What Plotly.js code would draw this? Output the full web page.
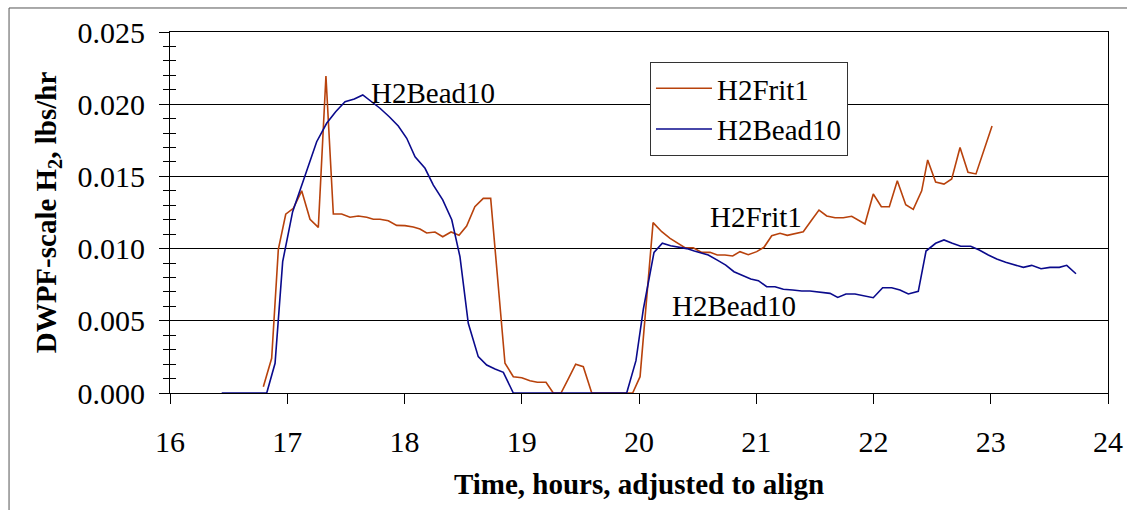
<!DOCTYPE html>
<html>
<head>
<meta charset="utf-8">
<script src="https://cdn.plot.ly/plotly-3.0.1.min.js"></script>
<style>html,body{margin:0;padding:0;background:#fff;}#chart{width:1127px;height:510px;}</style>
</head>
<body>
<div id="chart"></div>
<script>
// H2Frit1 series (time in hours, DWPF-scale H2 in lbs/hr)
var fritTime = [16.796,16.867,16.924,16.987,17.052,17.123,17.194,17.265,17.330,17.393,17.464,17.535,17.606,17.678,17.734,17.791,17.862,17.933,18.004,18.075,18.132,18.189,18.260,18.326,18.397,18.465,18.530,18.600,18.672,18.735,18.857,18.928,19.000,19.070,19.133,19.207,19.269,19.335,19.397,19.460,19.525,19.597,19.946,20.009,20.120,20.194,20.265,20.335,20.392,20.463,20.535,20.606,20.668,20.733,20.799,20.861,20.932,21.004,21.066,21.132,21.203,21.265,21.330,21.401,21.473,21.535,21.601,21.672,21.742,21.814,21.927,21.998,22.067,22.135,22.203,22.275,22.339,22.411,22.462,22.530,22.601,22.667,22.738,22.806,22.874,23.011];
var fritH2 = [0.00044,0.0024,0.00995,0.01238,0.01279,0.0140,0.01203,0.01147,0.02195,0.0124,0.0124,0.01217,0.01226,0.01217,0.01203,0.01203,0.01193,0.01161,0.01159,0.0115,0.01136,0.01108,0.01115,0.01082,0.01115,0.01092,0.01156,0.0129,0.01348,0.01348,0.00206,0.00113,0.00106,0.00085,0.00074,0.00074,0,0,0.00097,0.00199,0.00182,0,0,0.00113,0.0118,0.01117,0.01071,0.01037,0.01006,0.01006,0.00974,0.00974,0.00956,0.00956,0.00949,0.00979,0.00958,0.00979,0.01009,0.01089,0.01106,0.01092,0.01106,0.01117,0.01198,0.01267,0.01226,0.01214,0.01214,0.01224,0.0117,0.01378,0.0129,0.0129,0.0147,0.01304,0.01272,0.0140,0.01614,0.01461,0.01447,0.01482,0.0170,0.01528,0.01517,0.01849];

// H2Bead10 series
var beadTime = [16.441,16.825,16.896,16.961,17.046,17.123,17.188,17.251,17.336,17.413,17.493,17.572,17.644,17.720,17.791,17.870,17.947,18.019,18.090,18.175,18.246,18.326,18.403,18.473,18.544,18.629,18.701,18.772,18.843,18.928,19.895,19.974,20.037,20.128,20.199,20.270,20.335,20.407,20.472,20.535,20.591,20.668,20.740,20.810,20.884,20.953,21.018,21.089,21.160,21.231,21.311,21.388,21.458,21.538,21.629,21.695,21.765,21.842,21.998,22.078,22.155,22.226,22.297,22.382,22.448,22.530,22.601,22.672,22.744,22.829,22.902,22.979,23.051,23.127,23.207,23.278,23.349,23.429,23.505,23.585,23.648,23.727];
var beadH2 = [0,0,0.00206,0.0091,0.01256,0.0144,0.0159,0.0174,0.01868,0.01948,0.02017,0.02036,0.02064,0.02017,0.01972,0.01913,0.01849,0.01764,0.01636,0.01556,0.0144,0.01337,0.0120,0.00944,0.00483,0.00252,0.00194,0.00166,0.00143,0,0,0.00224,0.0058,0.00974,0.01037,0.0102,0.0101,0.0100,0.00983,0.00967,0.00956,0.0092,0.00886,0.0084,0.00812,0.0079,0.00778,0.00736,0.00736,0.00718,0.00713,0.00706,0.00706,0.00697,0.0069,0.00662,0.00686,0.00686,0.0066,0.00729,0.00729,0.00713,0.00686,0.00704,0.00983,0.01037,0.0106,0.01037,0.01016,0.01016,0.0099,0.00956,0.00928,0.00905,0.00889,0.0087,0.00884,0.00861,0.0087,0.0087,0.00884,0.00826];

var seriesNames = ['H2Frit1', 'H2Bead10'];
var xTickVals = [16,17,18,19,20,21,22,23,24];
var yTickVals = [0,0.005,0.010,0.015,0.020,0.025];

// Inline labels: [text, x, y]
var labels = [
  ['H2Bead10', 17.70, 0.0208],
  ['H2Frit1', 20.590, 0.0122],
  ['H2Bead10', 20.265, 0.0060]
];

var FONT = 'Liberation Serif';
var orange = '#B8420C';
var blue = '#0A0A8C';

var traces = [
  {x: fritTime, y: fritH2, name: seriesNames[0], type: 'scatter', mode: 'lines',
   line: {color: orange, width: 1.6}},
  {x: beadTime, y: beadH2, name: seriesNames[1], type: 'scatter', mode: 'lines',
   line: {color: blue, width: 1.6}},
  {x: [16], y: [0], yaxis: 'y2', showlegend: false, mode: 'markers',
   marker: {opacity: 0}, hoverinfo: 'skip'}
];

var layout = {
  width: 1127, height: 510,
  margin: {l: 170, r: 19, t: 32, b: 117},
  paper_bgcolor: '#fff', plot_bgcolor: '#fff',
  font: {family: FONT, size: 30, color: '#000'},
  showlegend: true,
  legend: {x: 0.5117, y: 0.917, xanchor: 'left', yanchor: 'top',
           bgcolor: '#fff', bordercolor: '#333', borderwidth: 1,
           itemwidth: 56, tracegroupgap: 0,
           font: {family: FONT, size: 29, color: '#000'}},
  xaxis: {
    range: [16, 24], tickvals: xTickVals, ticktext: xTickVals.map(String),
    ticks: 'outside', ticklen: 10, tickcolor: '#000', tickwidth: 1,
    tickfont: {family: FONT, size: 30},
    showline: true, linecolor: '#000', linewidth: 1, mirror: true,
    showgrid: false, zeroline: false, ticklabelstandoff: 12,
    title: {text: 'Time, hours, adjusted to align', standoff: 16,
            font: {family: FONT, size: 29, weight: 'bold'}}
  },
  yaxis: {
    range: [0, 0.025], tickvals: yTickVals, tickformat: '.3f',
    ticks: 'outside', ticklen: 10, tickcolor: '#000', tickwidth: 1,
    tickfont: {family: FONT, size: 30},
    minor: {dtick: 0.001, ticks: 'outside', ticklen: 6, tickcolor: '#000', showgrid: false},
    showline: true, linecolor: '#000', linewidth: 1, mirror: true,
    showgrid: true, gridcolor: '#000', gridwidth: 1, zeroline: false,
    ticklabelstandoff: 8,
    title: {text: 'DWPF-scale H<sub>2</sub>, lbs/hr', standoff: 12,
            font: {family: FONT, size: 29, weight: 'bold'}}
  },
  yaxis2: {
    overlaying: 'y', matches: 'y', side: 'left', range: [0, 0.025],
    tickvals: yTickVals, ticks: 'inside', ticklen: 10, tickcolor: '#000',
    minor: {dtick: 0.001, ticks: 'inside', ticklen: 6, tickcolor: '#000', showgrid: false},
    showticklabels: false, showgrid: false, zeroline: false, showline: false
  },
  annotations: labels.map(function (l) {
    return {x: l[1], y: l[2], xref: 'x', yref: 'y', text: l[0], showarrow: false,
            xanchor: 'left', yanchor: 'middle',
            font: {family: FONT, size: 29, color: '#000'}};
  }),
  shapes: [
    {type: 'rect', xref: 'paper', yref: 'paper', x0: -0.1716, x1: 1.2, y0: -0.6, y1: 1.0665,
     line: {color: '#555', width: 1}, fillcolor: 'rgba(0,0,0,0)', layer: 'below'}
  ]
};

Plotly.newPlot('chart', traces, layout, {displayModeBar: false, staticPlot: true});
</script>
</body>
</html>
